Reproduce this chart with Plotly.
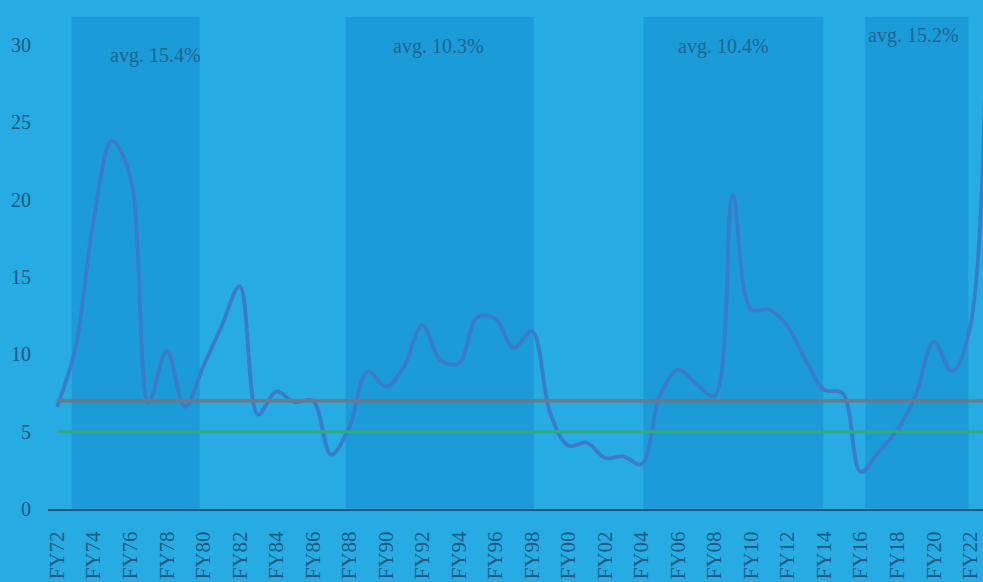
import plotly.graph_objects as go

# ---- data ----
categories = ["FY72", "FY73", "FY74", "FY75", "FY76", "FY77", "FY78", "FY79", "FY80", "FY81",
              "FY82", "FY83", "FY84", "FY85", "FY86", "FY87", "FY88", "FY89", "FY90", "FY91",
              "FY92", "FY93", "FY94", "FY95", "FY96", "FY97", "FY98", "FY99", "FY00", "FY01",
              "FY02", "FY03", "FY04", "FY05", "FY06", "FY07", "FY08", "FY09", "FY10", "FY11",
              "FY12", "FY13", "FY14", "FY15", "FY16", "FY17", "FY18", "FY19", "FY20", "FY21",
              "FY22", "FY23"]
inflation = [6.6, 10.4, 18.7, 23.8, 21.5, 6.9, 10.2, 6.6, 9.2, 11.8,
             14.4, 6.1, 7.6, 6.9, 7.0, 3.5, 5.3, 8.9, 7.9, 9.2,
             11.9, 9.6, 9.4, 12.4, 12.3, 10.4, 11.5, 6.2, 4.1, 4.3,
             3.3, 3.4, 2.9, 7.3, 9.0, 8.1, 7.3, 20.3, 12.9, 12.9,
             11.8, 9.6, 7.7, 7.5, 2.4, 3.7, 5.1, 7.3, 10.8, 8.9,
             11.8, 50.0]
long_run_avg = 7.0
target_level = 5.0
tick_labels = categories[::2]
y_ticks = [0, 5, 10, 15, 20, 25, 30]

band_start = [0.8, 15.8, 32.1, 44.25]
band_end = [7.8, 26.1, 41.95, 49.9]
band_labels = ["avg. 15.4%", "avg. 10.3%", "avg. 10.4%", "avg. 15.2%"]
label_x = [5.4, 20.9, 36.5, 46.9]
label_y = [29.3, 29.9, 29.9, 30.6]
band_top = 31.8

# ---- style ----
BG = "#27abe3"
BAND = "#1b9bd8"
TXT = "#1b5a82"
FONT = "Liberation Serif"

fig = go.Figure()
fig.add_trace(go.Scatter(x=categories, y=inflation, mode="lines",
                         line=dict(color="#3b7cca", width=3.8, shape="spline", smoothing=1.0),
                         hoverinfo="skip", showlegend=False))
fig.add_trace(go.Scatter(x=categories, y=[long_run_avg] * len(categories), mode="lines",
                         line=dict(color="#6b7a88", width=3.5), hoverinfo="skip", showlegend=False))
fig.add_trace(go.Scatter(x=categories, y=[target_level] * len(categories), mode="lines",
                         line=dict(color="#2fa88e", width=3), hoverinfo="skip", showlegend=False))

for s, e in zip(band_start, band_end):
    fig.add_shape(type="rect", xref="x", yref="y", x0=s, x1=e, y0=0, y1=band_top,
                  fillcolor=BAND, line=dict(width=0), layer="below")

for t, xx, yy in zip(band_labels, label_x, label_y):
    fig.add_annotation(x=xx, y=yy, xref="x", yref="y", text=t, showarrow=False,
                       font=dict(family=FONT, size=20, color="#1e6690"))

fig.update_layout(
    width=983, height=582,
    margin=dict(l=48, r=0, t=10, b=73),
    paper_bgcolor=BG, plot_bgcolor=BG,
    font=dict(family=FONT, color=TXT, size=20),
    showlegend=False,
)
fig.update_xaxes(type="category", categoryorder="array", categoryarray=categories,
                 range=[-0.5, 50.7], tickmode="array", tickvals=tick_labels, ticktext=tick_labels,
                 tickangle=-90, showgrid=False, zeroline=False,
                 showline=True, linecolor="#1c4f78", linewidth=2,
                 ticks="", ticklabelstandoff=12, tickfont=dict(family=FONT, size=21, color=TXT))
fig.update_yaxes(range=[0, 32.25], tickvals=y_ticks, showgrid=False, zeroline=False,
                 showline=False, ticks="", ticklabelstandoff=16,
                 tickfont=dict(family=FONT, size=20, color=TXT))

fig.write_html("out.html", config={"displayModeBar": False},
               post_script="document.body.style.margin='0';document.body.style.background='" + BG + "';")
